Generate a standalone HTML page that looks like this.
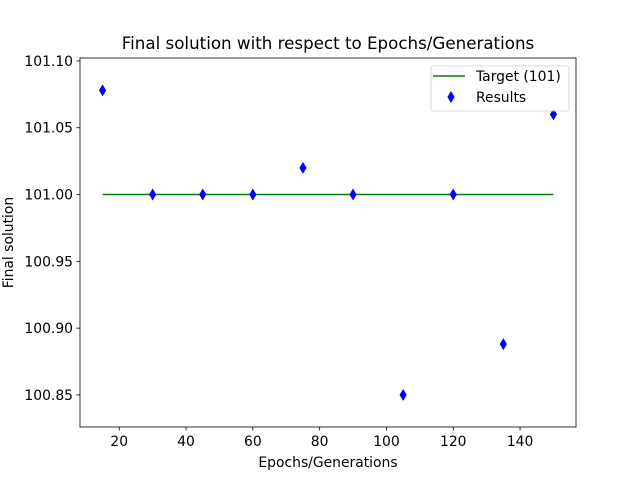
<!DOCTYPE html>
<html><head><meta charset="utf-8"><style>
body{margin:0;background:#fff;}
svg text{font-family:"DejaVu Sans","Liberation Sans",sans-serif;}
</style></head><body>
<svg id="chart" width="640" height="480" xmlns="http://www.w3.org/2000/svg">
<rect width="640" height="480" fill="#fff"/>
<g id="plot"></g>
</svg>
<script>
const epochs=[15,30,45,60,75,90,105,120,135,150];
const results=[101.078,101.0,101.0,101.0,101.02,101.0,100.85,101.0,100.888,101.06];
const targetX=[15,150];
const targetY=[101,101];
const xTicks=[20,40,60,80,100,120,140];
const yTicks=[100.85,100.90,100.95,101.00,101.05,101.10];
const L=80,R=576,T=58,B=427;
const xMin=8.25,xMax=156.75,yMin=100.826,yMax=101.1022;
const sx=v=>L+(v-xMin)/(xMax-xMin)*(R-L);
const sy=v=>B-(v-yMin)/(yMax-yMin)*(B-T);
const NS="http://www.w3.org/2000/svg";
const g=document.getElementById('plot');
function mk(t,a,p){const e=document.createElementNS(NS,t);for(const k in a)e.setAttribute(k,a[k]);(p||g).appendChild(e);return e;}
const ln=mk('polyline',{points:targetX.map((x,i)=>sx(x)+','+sy(targetY[i])).join(' '),fill:'none',stroke:'#008000','stroke-width':1.5});


epochs.forEach((x,i)=>{const cx=sx(x),cy=sy(results[i]);
const d=mk('polygon',{points:`${cx},${cy-6} ${cx+3.6},${cy} ${cx},${cy+6} ${cx-3.6},${cy}`,fill:'#0000ff'});

});
const fr=mk('rect',{x:L,y:T,width:R-L,height:B-T,fill:'none',stroke:'#000','stroke-width':0.8});


xTicks.forEach(v=>{const x=sx(v);mk('line',{x1:x,x2:x,y1:B,y2:B+3.5,stroke:'#000','stroke-width':0.8});
const t=mk('text',{x:x,y:B+19,'font-size':13.9,'text-anchor':'middle'});t.textContent=v;

});
yTicks.forEach(v=>{const y=sy(v);mk('line',{x1:L-3.5,x2:L,y1:y,y2:y,stroke:'#000','stroke-width':0.8});
const t=mk('text',{x:L-7,y:y+5,'font-size':13.9,'text-anchor':'end'});t.textContent=v.toFixed(2);

});
let t=mk('text',{x:(L+R)/2,y:49,'font-size':16.7,'text-anchor':'middle'});t.textContent='Final solution with respect to Epochs/Generations';


t=mk('text',{x:(L+R)/2,y:467,'font-size':13.9,'text-anchor':'middle'});t.textContent='Epochs/Generations';


t=mk('text',{x:13,y:(T+B)/2,'font-size':13.9,'text-anchor':'middle',transform:`rotate(-90 13 ${(T+B)/2})`});t.textContent='Final solution';


const lg=mk('g',{});


mk('rect',{x:431,y:66,width:138,height:45,rx:2,fill:'#fff','fill-opacity':0.8,stroke:'#ccc','stroke-width':0.8},lg);
mk('line',{x1:433,x2:465,y1:76,y2:76,stroke:'#008000','stroke-width':1.5},lg);
t=mk('text',{x:476,y:81,'font-size':13.9},lg);t.textContent='Target (101)';


mk('polygon',{points:'451,91 454.6,97 451,103 447.4,97',fill:'#0000ff'},lg);
t=mk('text',{x:476,y:102,'font-size':13.9},lg);t.textContent='Results';


</script>
</body></html>
